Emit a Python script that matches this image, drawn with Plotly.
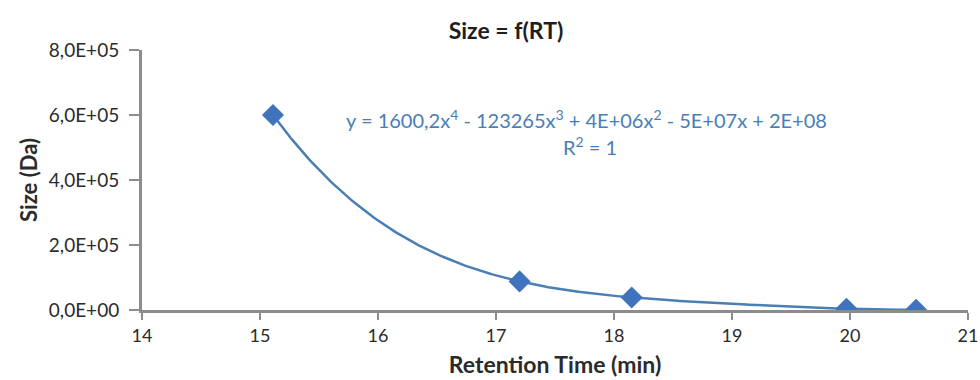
import numpy as np
import plotly.graph_objects as go

# Calibration standards: retention time (min) vs. molecular size (Da)
retention_time = [15.11, 17.2, 18.15, 19.97, 20.56]
size_da = [600000, 88000, 38500, 4000, 1000]

y_tickvals = [0, 200000, 400000, 600000, 800000]
y_ticktext = ["0,0E+00", "2,0E+05", "4,0E+05", "6,0E+05", "8,0E+05"]
x_tickvals = [14, 15, 16, 17, 18, 19, 20, 21]

equation = ("y = 1600,2x<sup>4</sup> - 123265x<sup>3</sup> + 4E+06x<sup>2</sup>"
            " - 5E+07x + 2E+08")
r_squared = "R<sup>2</sup> = 1"

# 4th-order polynomial trendline through the standards
coeffs = np.polyfit(retention_time, size_da, 4)
x_fit = np.linspace(min(retention_time), max(retention_time), 300)
y_fit = np.polyval(coeffs, x_fit)

font_family = "Lato, 'Open Sans', sans-serif"
axis_grey = "#8c8c8c"
text_dark = "#2b2b2b"
trend_blue = "#4a7eb5"

fig = go.Figure()
fig.add_trace(go.Scatter(
    x=x_fit, y=y_fit, mode="lines",
    line=dict(color=trend_blue, width=2.5),
    hoverinfo="skip", showlegend=False,
))
fig.add_trace(go.Scatter(
    x=retention_time, y=size_da, mode="markers",
    marker=dict(symbol="diamond", size=17, color="#3f74bd",
                line=dict(width=0)),
    showlegend=False,
))

# Plot area: x 142..968 px, y 50..310 px
L, R, T, B = 142, 12, 50, 70
plot_w, plot_h = 980 - L - R, 380 - T - B

fig.add_annotation(
    x=(586 - L) / plot_w, y=(310 - 104) / plot_h,
    xref="x domain", yref="y domain", showarrow=False,
    text=equation, font=dict(family=font_family, size=20, color=trend_blue),
)
fig.add_annotation(
    x=(590 - L) / plot_w, y=(310 - 131) / plot_h,
    xref="x domain", yref="y domain", showarrow=False,
    text=r_squared, font=dict(family=font_family, size=20, color=trend_blue),
)

fig.update_layout(
    width=980, height=380,
    margin=dict(l=L, r=R, t=T, b=B, autoexpand=False),
    paper_bgcolor="white", plot_bgcolor="white",
    font=dict(family=font_family, size=18, color=text_dark),
    title=dict(text="<b>Size = f(RT)</b>", x=506 / 980, xanchor="center",
               y=1 - 31 / 380, yanchor="middle",
               font=dict(family=font_family, size=23, color="#1e1e1e")),
    xaxis=dict(
        range=[14, 21], tickvals=x_tickvals, showgrid=False, zeroline=False,
        showline=True, linecolor=axis_grey, linewidth=3,
        ticks="outside", tickcolor=axis_grey, tickwidth=2, ticklen=7,
        automargin=False,
        title=dict(text="<b>Retention Time (min)</b>", standoff=13,
                   font=dict(family=font_family, size=23, color=text_dark)),
        tickfont=dict(size=18),
    ),
    yaxis=dict(
        range=[0, 800000], tickvals=y_tickvals, ticktext=y_ticktext,
        showgrid=False, zeroline=False, automargin=False,
        showline=True, linecolor=axis_grey, linewidth=3,
        ticks="outside", tickcolor=axis_grey, tickwidth=2, ticklen=10,
        ticklabelstandoff=6,
        title=dict(text="<b>Size (Da)</b>", standoff=6,
                   font=dict(family=font_family, size=22, color=text_dark)),
        tickfont=dict(size=19),
    ),
)

fig.write_html("out.html")
